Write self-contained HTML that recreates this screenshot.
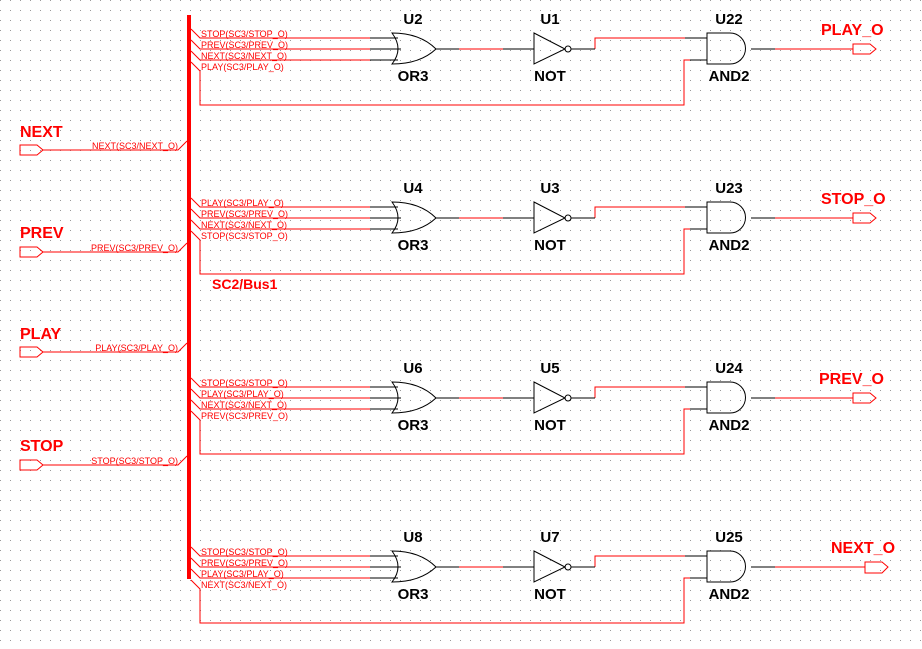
<!DOCTYPE html>
<html><head><meta charset="utf-8"><style>
html,body{margin:0;padding:0;background:#fff;}
svg{display:block;font-family:"Liberation Sans",Arial,sans-serif;}
.s{font-size:9px;fill:#f00;}
.b{font-size:15px;font-weight:bold;fill:#000;text-anchor:middle;}
.r{font-size:16px;font-weight:bold;fill:#f00;}
</style></head><body>
<svg width="922" height="649" viewBox="0 0 922 649" xmlns="http://www.w3.org/2000/svg">
<defs>
<pattern id="g" width="10" height="10" patternUnits="userSpaceOnUse" x="0" y="0">
<rect x="0" y="0" width="1" height="1" fill="#999"/>
</pattern>
<g id="blk" fill="none" stroke-width="1">
<g stroke="#f00">
<path d="M191,29 L200,38 H370 M191,40 L200,49 H370 M191,51 L200,60 H370 M191,62 L200,71 V105 H684 V60 H690 M459,49 H503 M595,49 V38 H685 M775,49 H853"/>
</g>
<g stroke="#000">
<path d="M370,38 H398 M370,49 H401 M370,60 H398 M436,49 H459 M503,49 H534 M571,49 H595 M685,38 H707 M690,60 H707 M751,49 H775"/>
<path d="M392,33 Q404,49 392,64 Q420,64 436,49 Q420,33 392,33 Z"/>
<path d="M534,33 L534,64 L565,49 Z"/>
<circle cx="568" cy="49" r="3"/>
<path d="M707,33 H730 A15.5,15.5 0 0 1 730,64 H707 Z"/>
</g>
<path d="M853,44 H870 L876,49 L870,54 H853 Z" stroke="#f00"/>
</g>
</defs>
<rect width="922" height="649" fill="url(#g)"/>
<rect x="187" y="15" width="4" height="564" fill="#f00"/>

<use href="#blk"/>
<use href="#blk" y="169"/>
<use href="#blk" y="349"/>
<use href="#blk" y="518"/>

<g class="s">
<text x="201" y="37">STOP(SC3/STOP_O)</text><text x="201" y="48">PREV(SC3/PREV_O)</text><text x="201" y="59">NEXT(SC3/NEXT_O)</text><text x="201" y="70">PLAY(SC3/PLAY_O)</text>
<text x="201" y="206">PLAY(SC3/PLAY_O)</text><text x="201" y="217">PREV(SC3/PREV_O)</text><text x="201" y="228">NEXT(SC3/NEXT_O)</text><text x="201" y="239">STOP(SC3/STOP_O)</text>
<text x="201" y="386">STOP(SC3/STOP_O)</text><text x="201" y="397">PLAY(SC3/PLAY_O)</text><text x="201" y="408">NEXT(SC3/NEXT_O)</text><text x="201" y="419">PREV(SC3/PREV_O)</text>
<text x="201" y="555">STOP(SC3/STOP_O)</text><text x="201" y="566">PREV(SC3/PREV_O)</text><text x="201" y="577">PLAY(SC3/PLAY_O)</text><text x="201" y="588">NEXT(SC3/NEXT_O)</text>
</g>
<g class="b">
<text x="413" y="24">U2</text><text x="413" y="81">OR3</text><text x="550" y="24">U1</text><text x="550" y="81">NOT</text><text x="729" y="24">U22</text><text x="729" y="81">AND2</text>
<text x="413" y="193">U4</text><text x="413" y="250">OR3</text><text x="550" y="193">U3</text><text x="550" y="250">NOT</text><text x="729" y="193">U23</text><text x="729" y="250">AND2</text>
<text x="413" y="373">U6</text><text x="413" y="430">OR3</text><text x="550" y="373">U5</text><text x="550" y="430">NOT</text><text x="729" y="373">U24</text><text x="729" y="430">AND2</text>
<text x="413" y="542">U8</text><text x="413" y="599">OR3</text><text x="550" y="542">U7</text><text x="550" y="599">NOT</text><text x="729" y="542">U25</text><text x="729" y="599">AND2</text>
</g>
<g class="r">
<text x="821" y="35">PLAY_O</text>
<text x="821" y="204">STOP_O</text>
<text x="819" y="384">PREV_O</text>
<text x="831" y="553">NEXT_O</text>
<text x="212" y="289" style="font-size:14px">SC2/Bus1</text>
<text x="20" y="137">NEXT</text>
<text x="20" y="238">PREV</text>
<text x="20" y="339">PLAY</text>
<text x="20" y="451">STOP</text>
</g>
<rect x="852" y="561" width="26" height="12" fill="#fff"/>
<g fill="none" stroke="#f00">
<path d="M852,567 H865 M865,562 H882 L888,567 L882,573 H865 Z"/>
<path d="M20,145 H37 L43,150 L37,155 H20 Z M43,150 H178 L187,141"/>
<path d="M20,247 H37 L43,252 L37,257 H20 Z M43,252 H178 L187,243"/>
<path d="M20,347 H37 L43,352 L37,357 H20 Z M43,352 H178 L187,343"/>
<path d="M20,460 H37 L43,465 L37,470 H20 Z M43,465 H178 L187,456"/>
</g>
<g class="s" text-anchor="end">
<text x="178" y="149">NEXT(SC3/NEXT_O)</text>
<text x="178" y="251">PREV(SC3/PREV_O)</text>
<text x="178" y="351">PLAY(SC3/PLAY_O)</text>
<text x="178" y="464">STOP(SC3/STOP_O)</text>
</g>
</svg>
</body></html>
